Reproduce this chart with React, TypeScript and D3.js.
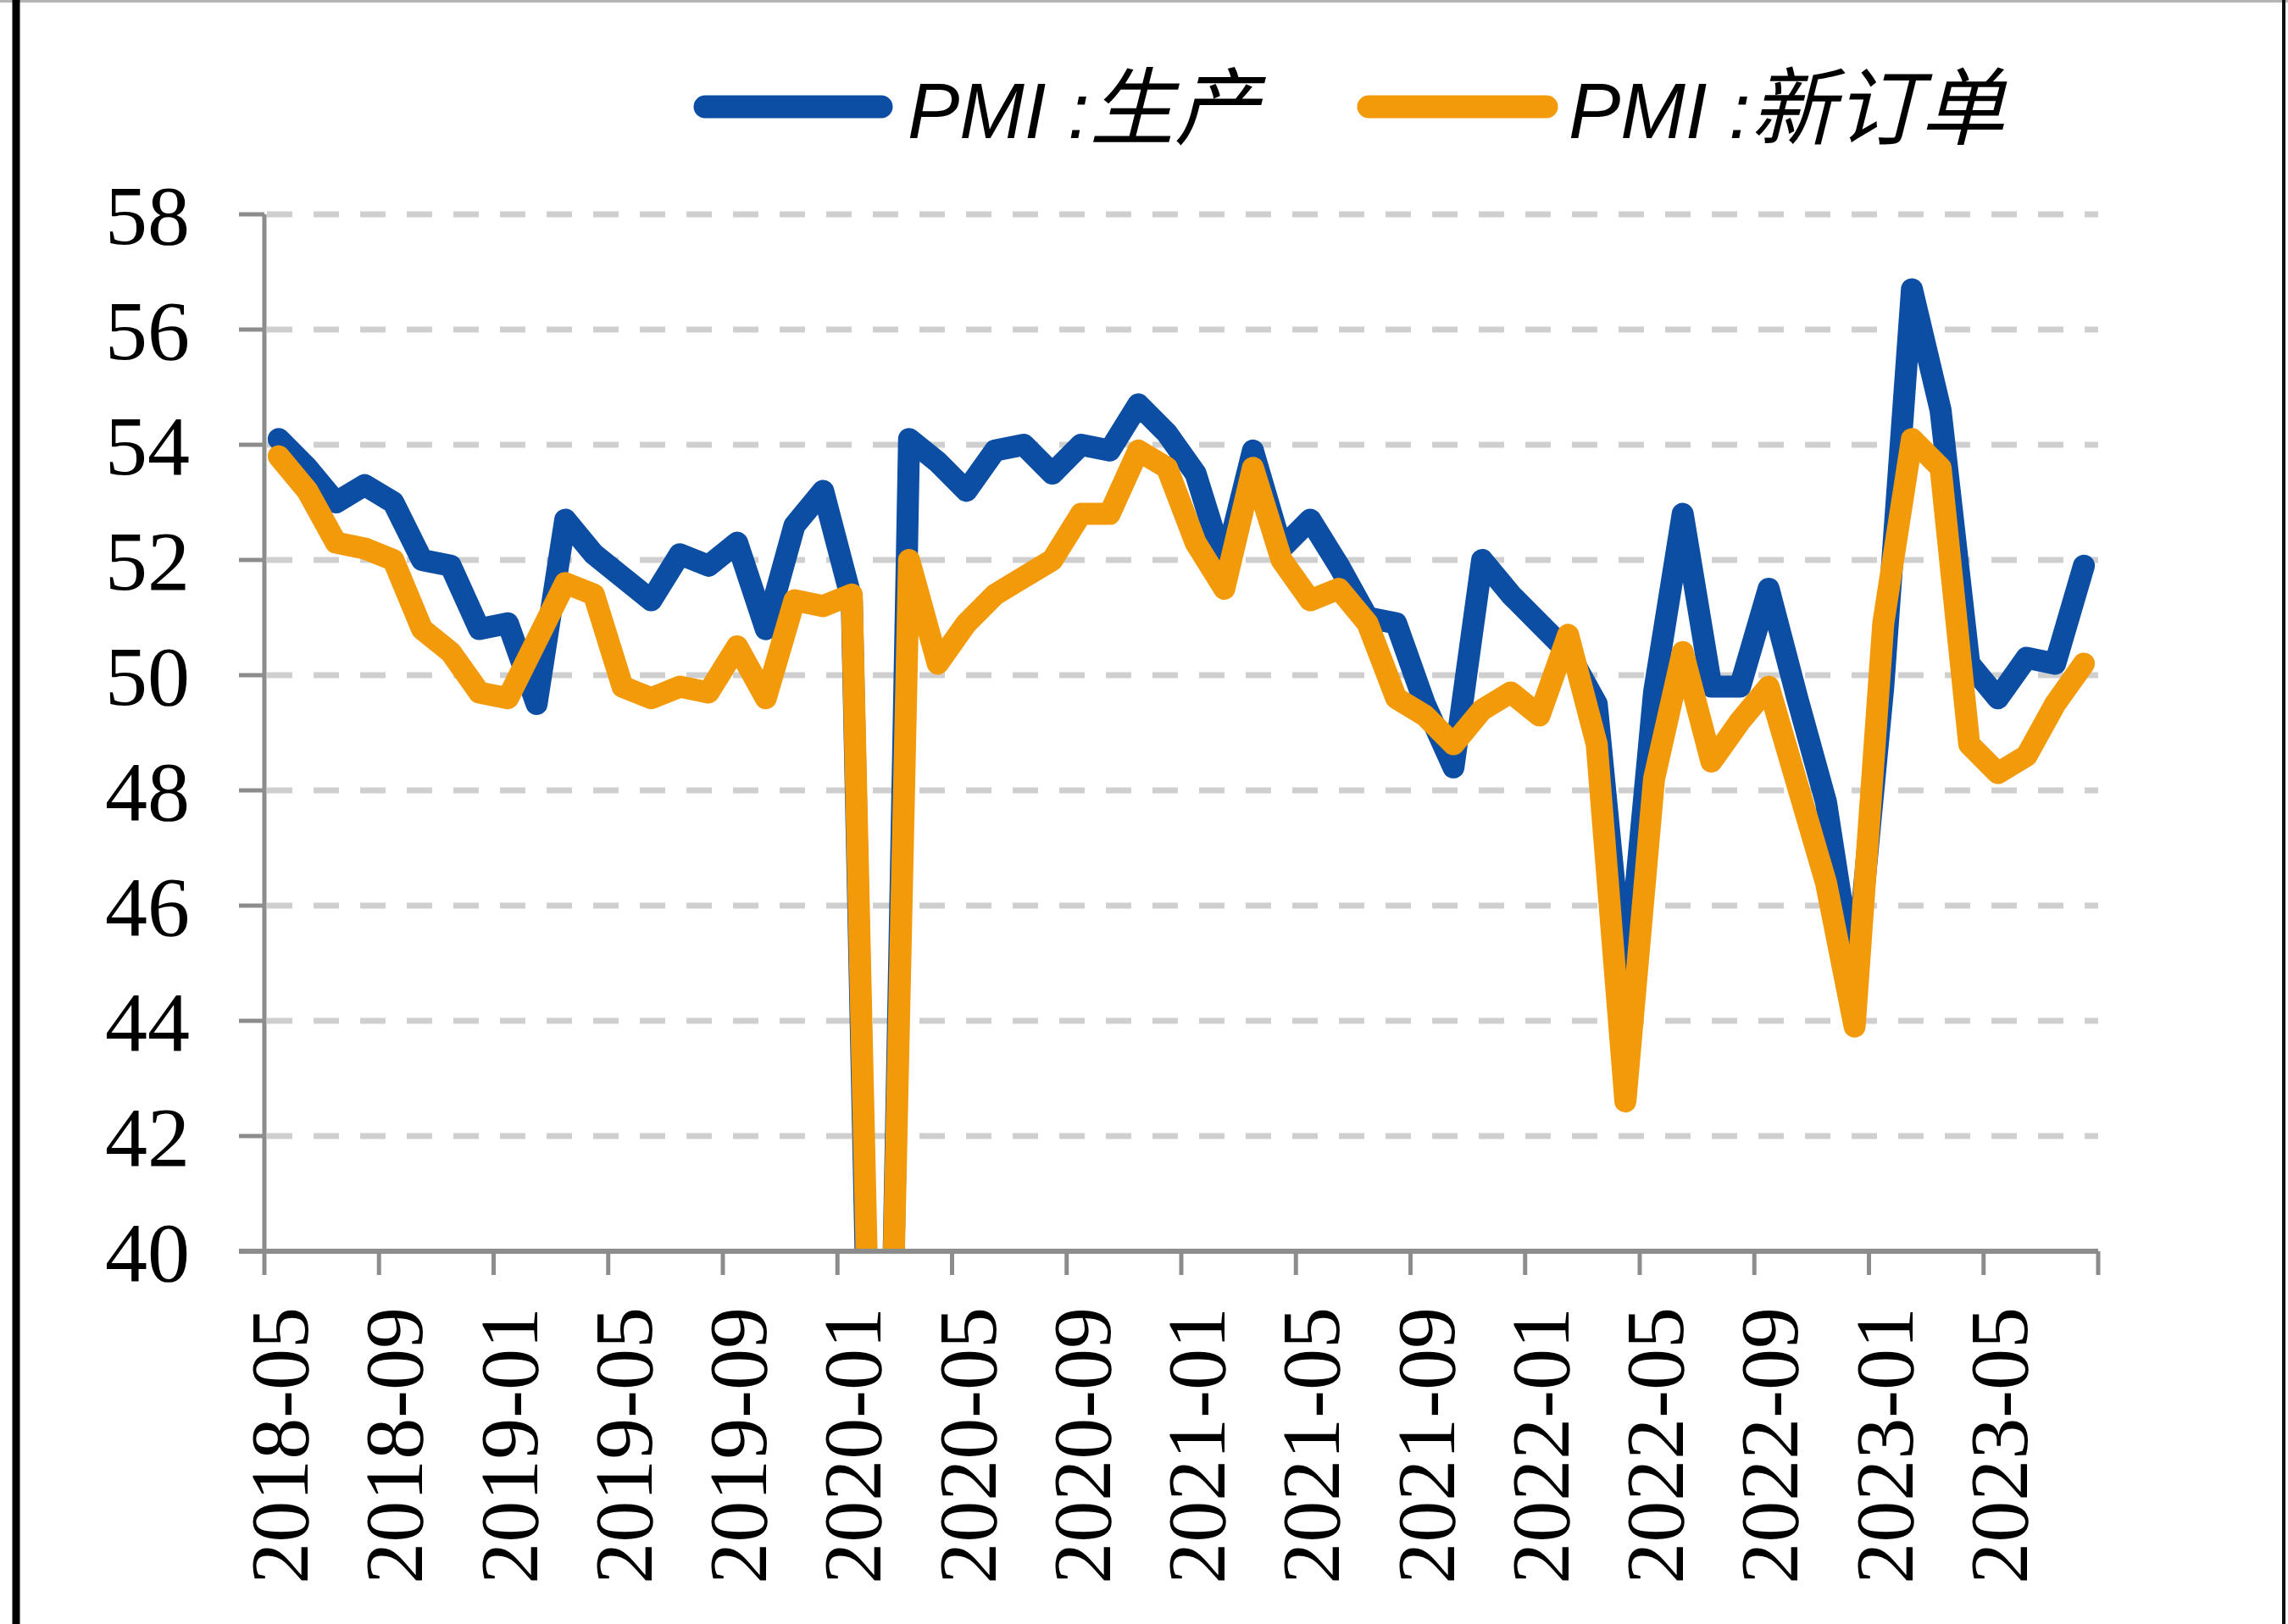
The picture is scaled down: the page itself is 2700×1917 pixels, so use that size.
import React, { useEffect } from "react";
import * as d3 from "d3";

const months: string[] = [
  "2018-05","2018-06","2018-07","2018-08","2018-09","2018-10","2018-11","2018-12",
  "2019-01","2019-02","2019-03","2019-04","2019-05","2019-06","2019-07","2019-08",
  "2019-09","2019-10","2019-11","2019-12","2020-01","2020-02","2020-03","2020-04",
  "2020-05","2020-06","2020-07","2020-08","2020-09","2020-10","2020-11","2020-12",
  "2021-01","2021-02","2021-03","2021-04","2021-05","2021-06","2021-07","2021-08",
  "2021-09","2021-10","2021-11","2021-12","2022-01","2022-02","2022-03","2022-04",
  "2022-05","2022-06","2022-07","2022-08","2022-09","2022-10","2022-11","2022-12",
  "2023-01","2023-02","2023-03","2023-04","2023-05","2023-06","2023-07","2023-08",
];

// PMI:生产
const production: number[] = [
  54.1, 53.6, 53.0, 53.3, 53.0, 52.0, 51.9, 50.8,
  50.9, 49.5, 52.7, 52.1, 51.7, 51.3, 52.1, 51.9,
  52.3, 50.8, 52.6, 53.2, 51.3, 27.8, 54.1, 53.7,
  53.2, 53.9, 54.0, 53.5, 54.0, 53.9, 54.7, 54.2,
  53.5, 51.9, 53.9, 52.2, 52.7, 51.9, 51.0, 50.9,
  49.5, 48.4, 52.0, 51.4, 50.9, 50.4, 49.5, 44.4,
  49.7, 52.8, 49.8, 49.8, 51.5, 49.6, 47.8, 44.6,
  49.8, 56.7, 54.6, 50.2, 49.6, 50.3, 50.2, 51.9,
];

// PMI:新订单
const newOrders: number[] = [
  53.8, 53.2, 52.3, 52.2, 52.0, 50.8, 50.4, 49.7,
  49.6, 50.6, 51.6, 51.4, 49.8, 49.6, 49.8, 49.7,
  50.5, 49.6, 51.3, 51.2, 51.4, 29.3, 52.0, 50.2,
  50.9, 51.4, 51.7, 52.0, 52.8, 52.8, 53.9, 53.6,
  52.3, 51.5, 53.6, 52.0, 51.3, 51.5, 50.9, 49.6,
  49.3, 48.8, 49.4, 49.7, 49.3, 50.7, 48.8, 42.6,
  48.2, 50.4, 48.5, 49.2, 49.8, 48.1, 46.4, 43.9,
  50.9, 54.1, 53.6, 48.8, 48.3, 48.6, 49.5, 50.2,
];

const yTicks: number[] = [40, 42, 44, 46, 48, 50, 52, 54, 56, 58];
const xTickLabels: string[] = [
  "2018-05","2018-09","2019-01","2019-05","2019-09","2020-01","2020-05","2020-09",
  "2021-01","2021-05","2021-09","2022-01","2022-05","2022-09","2023-01","2023-05",
];

const seriesNames = ["PMI :", "PMI :"];
const seriesCn = ["生产", "新订单"];
const BLUE = "#0b4ea3";
const ORANGE = "#f39a0b";

const W = 2700;
const H = 1917;
const X0 = 312;
const X1 = 2476;
const YTOP = 253;
const YBOT = 1477;

export default function App() {
  useEffect(() => {
    document.body.style.margin = "0";
    document.body.style.overflow = "hidden";
  }, []);

  const x = d3.scaleBand<string>().domain(months).range([X0, X1]).padding(0);
  const y = d3.scaleLinear().domain([40, 58]).range([YBOT, YTOP]);
  const cx = (m: string) => (x(m) as number) + x.bandwidth() / 2;

  const line = d3
    .line<number>()
    .x((_, i) => cx(months[i]))
    .y((v) => y(v));

  const tickXs = xTickLabels.map((m) => x(m) as number).concat([X1]);
  const axisColor = "#8c8c8c";
  const serif = "'Liberation Serif', 'Times New Roman', serif";
  const legendFont = "'Liberation Sans', Arial, 'Noto Sans CJK SC', sans-serif";

  const legendItems = [
    { color: BLUE, x1: 832, x2: 1040, tx: 1071, name: seriesNames[0], cn: seriesCn[0] },
    { color: ORANGE, x1: 1615, x2: 1825, tx: 1851, name: seriesNames[1], cn: seriesCn[1] },
  ];

  return (
    <svg
      width={W}
      height={H}
      viewBox={`0 0 ${W} ${H}`}
      style={{ position: "absolute", left: 0, top: 0, display: "block", background: "#fff" }}
    >
      <defs>
        <clipPath id="plotClip">
          <rect x={X0} y={0} width={W - X0} height={YBOT} />
        </clipPath>
      </defs>
      <rect x={0} y={0} width={W} height={H} fill="#ffffff" />
      {/* frame */}
      <line x1={0} x2={W} y1={1.5} y2={1.5} stroke="#b5b5b5" strokeWidth={3} />
      <line x1={19} x2={19} y1={0} y2={H} stroke="#000" strokeWidth={9} />
      <line x1={2695} x2={2695} y1={0} y2={H} stroke="#111" strokeWidth={4} />

      {/* legend */}
      {legendItems.map((it, i) => (
        <g key={i}>
          <line
            x1={it.x1}
            x2={it.x2}
            y1={126}
            y2={126}
            stroke={it.color}
            strokeWidth={27}
            strokeLinecap="round"
          />
          <text x={it.tx} y={163} fontFamily={legendFont} fontStyle="italic" fill="#000">
            <tspan fontSize={92}>{it.name}</tspan>
            <tspan fontSize={100} fontFamily="'Noto Sans CJK SC', sans-serif">{it.cn}</tspan>
          </text>
        </g>
      ))}

      {/* gridlines */}
      {yTicks
        .filter((t) => t > 40)
        .map((t) => (
          <line
            key={"g" + t}
            x1={X0 + 3}
            x2={X1}
            y1={y(t)}
            y2={y(t)}
            stroke="#cfcfcf"
            strokeWidth={7}
            strokeDasharray="30 25"
          />
        ))}

      {/* series */}
      <g clipPath="url(#plotClip)">
        <path
          d={line(production) || ""}
          fill="none"
          stroke={BLUE}
          strokeWidth={26}
          strokeLinejoin="round"
          strokeLinecap="round"
        />
        <path
          d={line(newOrders) || ""}
          fill="none"
          stroke={ORANGE}
          strokeWidth={26}
          strokeLinejoin="round"
          strokeLinecap="round"
        />
      </g>

      {/* y axis */}
      <line x1={X0} x2={X0} y1={YTOP} y2={YBOT} stroke={axisColor} strokeWidth={5} />
      {yTicks.map((t) => (
        <g key={"y" + t}>
          <line x1={X0 - 30} x2={X0} y1={y(t)} y2={y(t)} stroke={axisColor} strokeWidth={5} />
          <text
            x={224}
            y={y(t)}
            dy="0.35em"
            textAnchor="end"
            fontFamily={serif}
            fontSize={100}
            fill="#000"
          >
            {t}
          </text>
        </g>
      ))}

      {/* x axis */}
      <line x1={X0 - 30} x2={X1} y1={YBOT} y2={YBOT} stroke={axisColor} strokeWidth={6} />
      {tickXs.map((tx, i) => (
        <line key={"xt" + i} x1={tx} x2={tx} y1={YBOT} y2={YBOT + 28} stroke={axisColor} strokeWidth={5} />
      ))}
      {xTickLabels.map((m) => (
        <text
          key={"xl" + m}
          transform={`translate(${cx(m)},1543) rotate(-90)`}
          dy="0.35em"
          textAnchor="end"
          fontFamily={serif}
          fontSize={98}
          fill="#000"
        >
          {m}
        </text>
      ))}
    </svg>
  );
}
